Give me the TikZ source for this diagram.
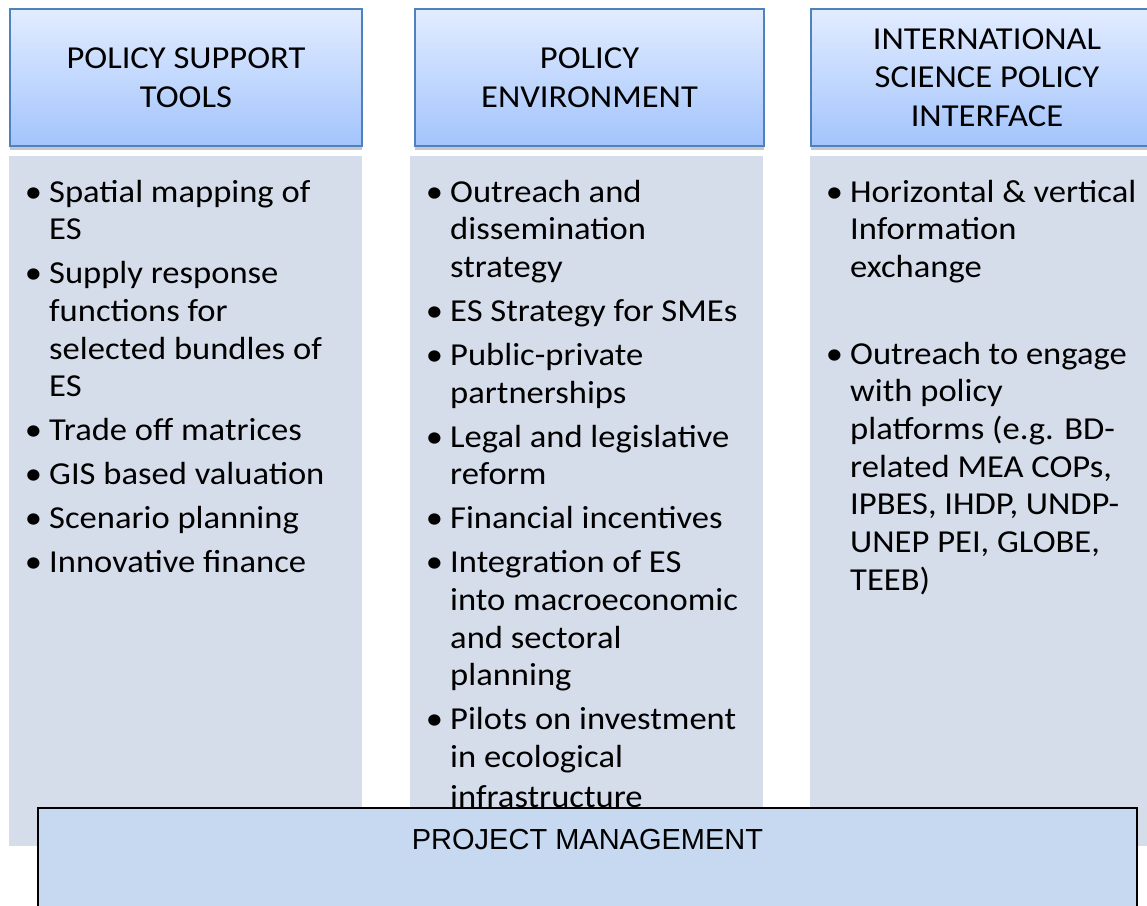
\documentclass[tikz,border=0pt]{standalone}
\usepackage{fontspec}
\setmainfont{Carlito}[FakeStretch=1.08]
\newfontfamily\arialfont{Liberation Sans}
\usetikzlibrary{shadows}
\definecolor{hdrtop}{RGB}{226,236,255}
\definecolor{hdrbot}{RGB}{163,196,252}
\definecolor{hdrline}{RGB}{79,129,189}
\definecolor{bodyfill}{RGB}{213,220,234}
\definecolor{pmfill}{RGB}{198,217,240}
\begin{document}
\begin{tikzpicture}[x=1pt,y=-1pt,
  hdr/.style={draw=hdrline, line width=2pt, top color=hdrtop, bottom color=hdrbot,
    align=center, font=\fontsize{32}{38.5}\selectfont, minimum height=137pt,
    inner sep=0pt,
    drop shadow={shadow xshift=0pt, shadow yshift=-4pt, opacity=0.22, fill=black}},
  bodybox/.style={fill=bodyfill, draw=none, inner sep=0pt, minimum height=690pt},
  txt/.style={anchor=base west, inner sep=0pt, font=\fontsize{32}{38}\selectfont},
  bul/.style={anchor=base, inner sep=0pt, font=\fontsize{32}{38}\selectfont},
  pmbox/.style={fill=pmfill, draw=black, line width=1.3pt, inner sep=0pt},
  pmtext/.style={anchor=base, inner sep=0pt, font=\arialfont\fontsize{29}{34}\selectfont}]
\useasboundingbox (0,0) rectangle (1147,905);
\clip (0,0) rectangle (1147,905);

% header boxes
\node[hdr, minimum width=352pt] (h1) at (186,77.5) {POLICY SUPPORT\\TOOLS};
\node[hdr, minimum width=349pt] (h2) at (589.5,77.5) {POLICY\\ENVIRONMENT};
\node[hdr, minimum width=352pt] (h3) at (987,77.5) {INTERNATIONAL\\SCIENCE POLICY\\INTERFACE};

% body panels
\node[bodybox, minimum width=353pt] (b1) at (185.5,501) {};
\node[bodybox, minimum width=353pt] (b2) at (586.5,501) {};
\node[bodybox, minimum width=353pt] (b3) at (986.5,501) {};

% column 1
\foreach \yy/\mytext [count=\i] in {202/{Spatial mapping of}, 239.7/ES,
  283.7/{Supply response}, 321.4/{functions for}, 359.1/{selected bundles of}, 396.8/ES,
  440.8/{Trade off matrices}, 484.8/{GIS based valuation}, 528.8/{Scenario planning},
  572.8/{Innovative finance}}
  \node[txt] (a\i) at (49,\yy) {\mytext};
\foreach \yy [count=\i] in {202,283.7,440.8,484.8,528.8,572.8}
  \node[bul] (ab\i) at (33.5,\yy) {\textbullet};

% column 2
\foreach \yy/\mytext [count=\i] in {202/{Outreach and}, 239.7/{dissemination}, 277.4/{strategy},
  321.4/{ES Strategy for SMEs}, 365.4/{Public-private}, 403.1/{partnerships},
  447.1/{Legal and legislative}, 484.8/{reform}, 528.8/{Financial incentives},
  572.8/{Integration of ES}, 610.5/{into macroeconomic}, 648.2/{and sectoral}, 685.9/{planning},
  729.9/{Pilots on investment}, 767.6/{in ecological}, 807.5/{infrastructure}}
  \node[txt] (c\i) at (450,\yy) {\mytext};
\foreach \yy [count=\i] in {202,321.4,365.4,447.1,528.8,572.8,729.9}
  \node[bul] (cb\i) at (434.5,\yy) {\textbullet};

% column 3
\foreach \yy/\mytext [count=\i] in {202/{Horizontal \& vertical}, 239.7/{Information},
  277.4/{exchange}, 364/{Outreach to engage}, 401.7/{with policy},
  439.4/{platforms (e.g. BD-}, 477.1/{related MEA COPs,}, 514.8/{IPBES, IHDP, UNDP-},
  552.5/{UNEP PEI, GLOBE,}, 590.2/{TEEB)}}
  \node[txt] (e\i) at (850,\yy) {\mytext};
\foreach \yy [count=\i] in {202,364}
  \node[bul] (eb\i) at (834.5,\yy) {\textbullet};

% project management
\node[pmbox, minimum width=1099pt, minimum height=130pt] (pm) at (587.5,873) {};
\node[pmtext] (pml) at (587.5,849) {PROJECT MANAGEMENT};
\end{tikzpicture}
\end{document}
